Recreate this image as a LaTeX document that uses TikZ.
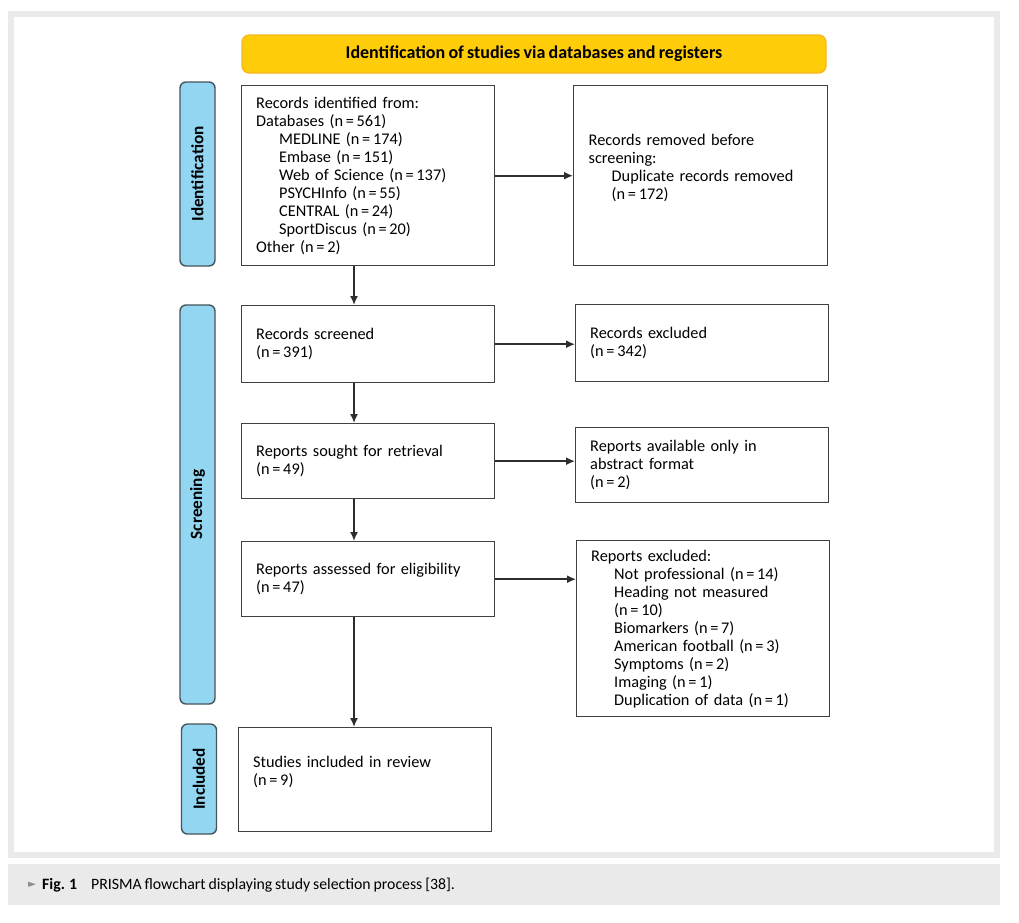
\documentclass[tikz,border=0pt]{standalone}
\usepackage{fontspec}
\setmainfont{Carlito}[WordSpace=0.8]
\newfontfamily\symfont{DejaVu Sans}
\usetikzlibrary{arrows.meta, positioning, calc}
\definecolor{cYellow}{RGB}{255,204,10}
\definecolor{cYellowEdge}{RGB}{246,184,30}
\definecolor{cBlue}{RGB}{146,214,242}
\definecolor{cBlueEdge}{RGB}{70,84,90}
\definecolor{cEdge}{RGB}{64,64,64}
\definecolor{cArrow}{RGB}{45,45,45}
\definecolor{cFrame}{RGB}{234,234,234}
\newcommand{\nn}[1]{(n\,=\,#1)}
\newcommand{\ind}{\hspace*{23pt}}
\tikzset{
    box/.style      ={rectangle, draw=cEdge, line width=1.4pt, anchor=north west, align=left, inner xsep=14.5pt, minimum width=253pt, text width=224pt, font=\fontsize{16.3}{18}\selectfont},
    phase/.style    ={rectangle, rounded corners=6pt, draw=cBlueEdge, line width=1.4pt, fill=cBlue, rotate=90, minimum height=35pt, font=\fontsize{17.2}{18}\selectfont\bfseries},
    header/.style   ={rectangle, rounded corners=7pt, draw=cYellowEdge, line width=1.2pt, fill=cYellow, minimum width=584pt, minimum height=38pt, font=\fontsize{18}{20}\selectfont\bfseries},
    flowarrow/.style={-{Latex[length=9pt,width=8pt]}, line width=1.6pt, draw=cArrow},
}

\begin{document}
\begin{tikzpicture}[x=1pt, y=-1pt]
        \useasboundingbox (0,0) rectangle (1019,922);
        % frame and caption band
        \fill[white] (0,0) rectangle (1019,922);
        \fill[cFrame] (8,11) rectangle (1000,858);
        \fill[white] (14,17) rectangle (994,852);
        \fill[cFrame] (8,864) rectangle (1000,905);
        \node[anchor=base west, inner sep=0pt, text=black!45, font=\symfont\fontsize{10.5}{12}\selectfont] (tri) at (28,887) {►};
        \node[anchor=base west, inner sep=0pt, font=\fontsize{15.8}{18}\selectfont] (caption) at (42,889) {\textbf{Fig. 1}\hspace{14pt}PRISMA flowchart displaying study selection process [38].};
        % header and phases
        \node[header] (head) at (534,54) {Identification of studies via databases and registers};
        \node[phase, minimum width=184pt] (identification) at (197.5,174) {Identification};
        \node[phase, minimum width=399pt] (screening) at (197.5,504.5) {Screening};
        \node[phase, minimum width=110pt] (included) at (199,779) {Included};
        % left column
        \node[box, minimum height=180pt] (records) at (241,85) {Records identified from:\\Databases \nn{561}\\\ind MEDLINE \nn{174}\\\ind Embase \nn{151}\\\ind Web of Science \nn{137}\\\ind PSYCHInfo \nn{55}\\\ind CENTRAL \nn{24}\\\ind SportDiscus \nn{20}\\Other \nn{2}};
        \node[box, minimum height=77pt] (screened) at (241,305) {Records screened\\\nn{391}};
        \node[box, minimum height=75pt] (sought) at (241,423) {Reports sought for retrieval\\\nn{49}};
        \node[box, minimum height=75pt] (assessed) at (241,541) {Reports assessed for eligibility\\\nn{47}};
        \node[box, minimum height=104pt] (studies) at (238,727) {Studies included in review\\\nn{9}\\\mbox{}};
        % right column
        \node[box, minimum width=254pt, minimum height=180pt] (removed) at (573,85) {Records removed before\\screening:\\\ind Duplicate records removed\\\ind\nn{172}\\\mbox{}};
        \node[box, minimum height=77pt] (excluded) at (575,304) {Records excluded\\\nn{342}};
        \node[box, minimum height=75pt] (abstract) at (575,427) {Reports available only in\\abstract format\\\nn{2}};
        \node[box, minimum height=176pt] (reasons) at (576,540) {Reports excluded:\\\ind Not professional \nn{14}\\\ind Heading not measured\\\ind\nn{10}\\\ind Biomarkers \nn{7}\\\ind American football \nn{3}\\\ind Symptoms \nn{2}\\\ind Imaging \nn{1}\\\ind Duplication of data \nn{1}};
        % arrows down
        \draw[flowarrow] ([xshift=113pt]records.south west) -- ([xshift=113pt]records.south west |- screened.north);
        \draw[flowarrow] ([xshift=113pt]screened.south west) -- ([xshift=113pt]screened.south west |- sought.north);
        \draw[flowarrow] ([xshift=113pt]sought.south west) -- ([xshift=113pt]sought.south west |- assessed.north);
        \draw[flowarrow] ([xshift=113pt]assessed.south west) -- ([xshift=113pt]assessed.south west |- studies.north);
        % arrows across
        \draw[flowarrow] (records.east) -- (records.east -| removed.west);
        \draw[flowarrow] (screened.east) -- (screened.east -| excluded.west);
        \draw[flowarrow] (sought.east) -- (sought.east -| abstract.west);
        \draw[flowarrow] (assessed.east) -- (assessed.east -| reasons.west);
    \end{tikzpicture}
\end{document}
